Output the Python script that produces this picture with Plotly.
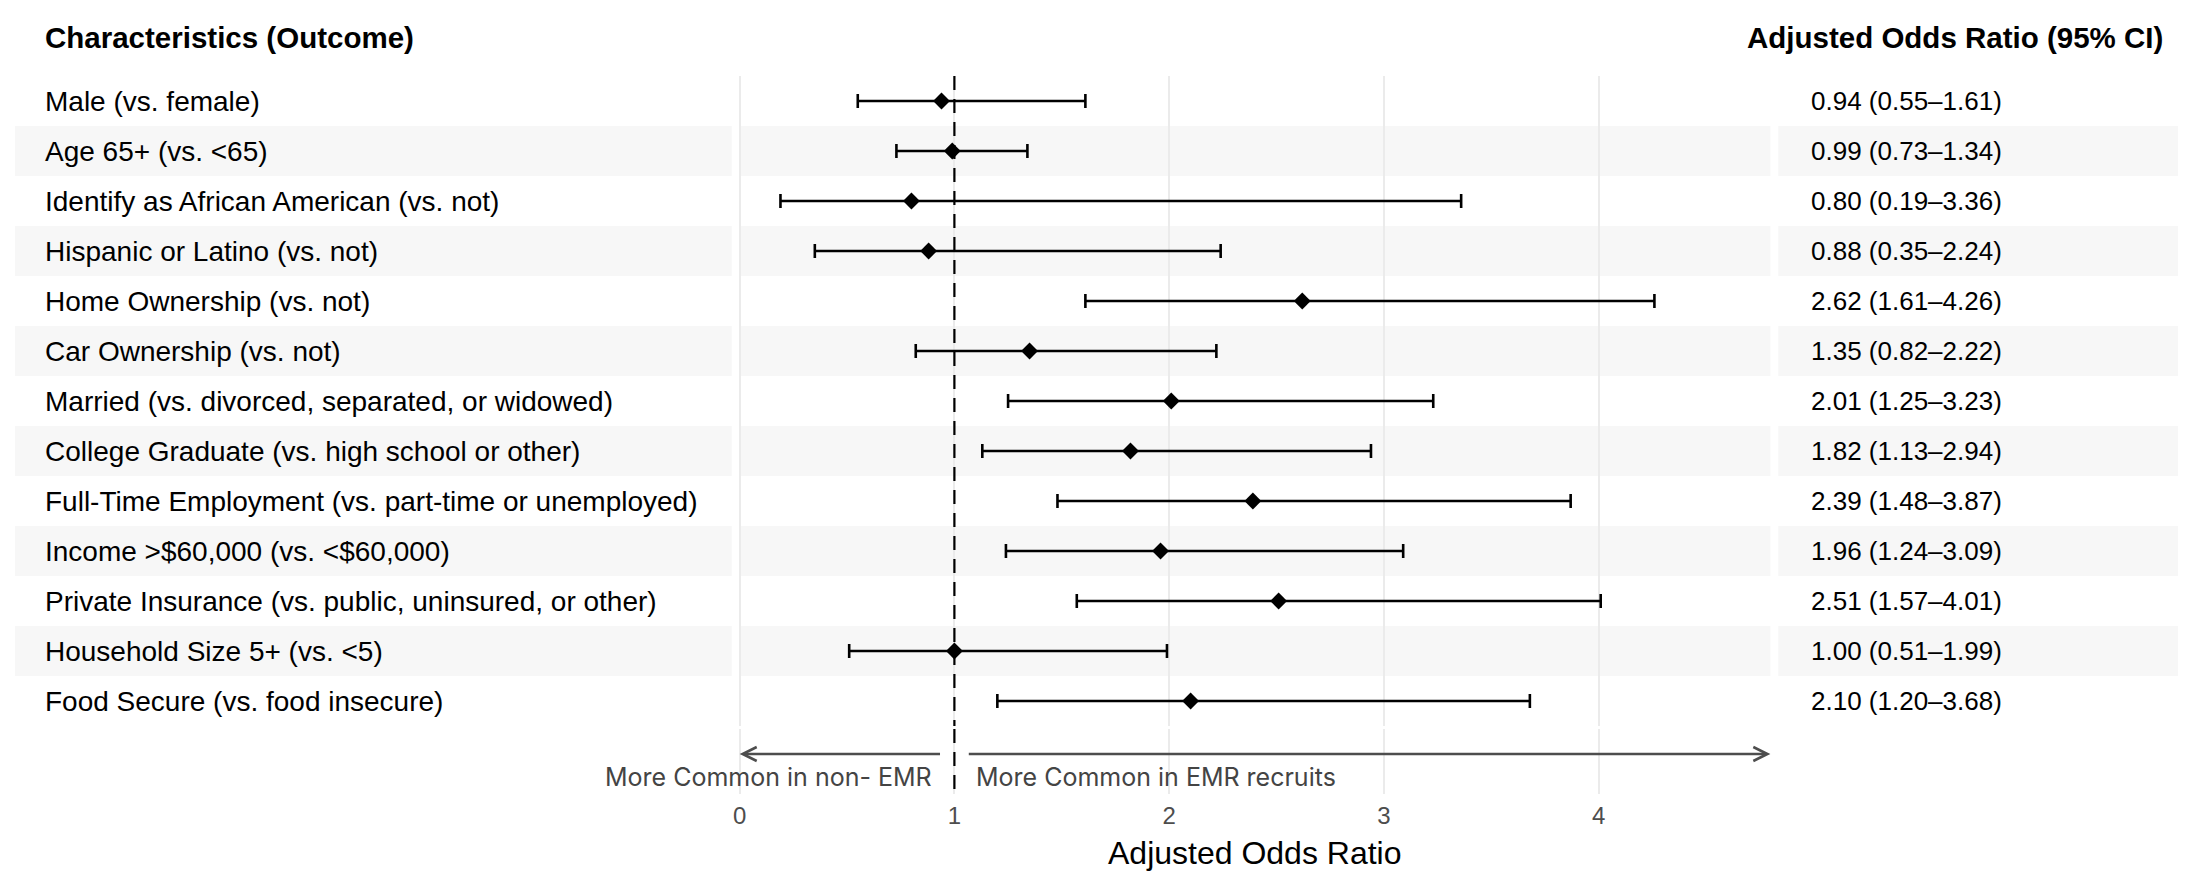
import plotly.graph_objects as go

# ---- data ----
characteristics = [
    "Male (vs. female)",
    "Age 65+ (vs. <65)",
    "Identify as African American (vs. not)",
    "Hispanic or Latino (vs. not)",
    "Home Ownership (vs. not)",
    "Car Ownership (vs. not)",
    "Married (vs. divorced, separated, or widowed)",
    "College Graduate (vs. high school or other)",
    "Full-Time Employment (vs. part-time or unemployed)",
    "Income >$60,000 (vs. <$60,000)",
    "Private Insurance (vs. public, uninsured, or other)",
    "Household Size 5+ (vs. <5)",
    "Food Secure (vs. food insecure)",
]
odds_ratio = [0.94, 0.99, 0.80, 0.88, 2.62, 1.35, 2.01, 1.82, 2.39, 1.96, 2.51, 1.00, 2.10]
ci_low = [0.55, 0.73, 0.19, 0.35, 1.61, 0.82, 1.25, 1.13, 1.48, 1.24, 1.57, 0.51, 1.20]
ci_high = [1.61, 1.34, 3.36, 2.24, 4.26, 2.22, 3.23, 2.94, 3.87, 3.09, 4.01, 1.99, 3.68]
x_ticks = [0, 1, 2, 3, 4]
x_tick_labels = ["0", "1", "2", "3", "4"]
left_header = "Characteristics (Outcome)"
right_header = "Adjusted Odds Ratio (95% CI)"
x_title = "Adjusted Odds Ratio"
arrow_left_text = "More Common in non- EMR"
arrow_right_text = "More Common in EMR recruits"

# ---- layout geometry (pixels) ----
W, H = 2186, 878
def px_x(p):
    return p / W
def px_y(p):
    return 1 - p / H

PANEL_L, PANEL_R = 727, 1761
TOP_T, TOP_B = 68, 718
BOT_T, BOT_B = 721, 786
X_MAX = 4.8

n = len(characteristics)
rows = list(range(n))

def esc(s):
    return s.replace("&", "&amp;").replace("<", "&lt;").replace(">", "&gt;")

TEXT_FONT = "Liberation Sans, Arial, Helvetica, sans-serif"

fig = go.Figure()

# reference line at OR = 1 (both panels)
fig.add_trace(go.Scatter(
    x=[1, 1], y=[-0.5, n - 0.5], mode="lines",
    line=dict(color="black", width=2.2, dash="14px,9px"),
    xaxis="x", yaxis="y", hoverinfo="skip", showlegend=False))
fig.add_trace(go.Scatter(
    x=[1, 1], y=[1, 0], mode="lines",
    line=dict(color="black", width=2.2, dash="14px,9px"),
    xaxis="x2", yaxis="y2", hoverinfo="skip", showlegend=False))

# estimates with CI
fig.add_trace(go.Scatter(
    x=odds_ratio, y=rows, mode="markers",
    marker=dict(symbol="diamond", size=13, color="black"),
    error_x=dict(type="data", symmetric=False,
                 array=[h - o for h, o in zip(ci_high, odds_ratio)],
                 arrayminus=[o - l for o, l in zip(odds_ratio, ci_low)],
                 color="black", thickness=2.6, width=7),
    xaxis="x", yaxis="y", showlegend=False))

shapes = []
annotations = []
STRIPE = "#f7f7f7"
for i in rows:
    if i % 2 == 1:
        for (a, b) in [(0, 719), (PANEL_L, PANEL_R), (1769, W)]:
            shapes.append(dict(type="rect", xref="paper", yref="y",
                               x0=px_x(a), x1=px_x(b), y0=i - 0.5, y1=i + 0.5,
                               fillcolor=STRIPE, line=dict(width=0), layer="below"))
    annotations.append(dict(xref="paper", yref="y", x=px_x(28), y=i,
                            text=esc(characteristics[i]), showarrow=False,
                            xanchor="left", yanchor="middle",
                            font=dict(family=TEXT_FONT, size=28, color="black")))
    annotations.append(dict(xref="paper", yref="y", x=px_x(1800), y=i,
                            text=f"{odds_ratio[i]:.2f} ({ci_low[i]:.2f}\u2013{ci_high[i]:.2f})",
                            showarrow=False, xanchor="left", yanchor="middle",
                            font=dict(family=TEXT_FONT, size=26, color="black")))

# headers
annotations.append(dict(xref="paper", yref="paper", x=px_x(28), y=px_y(29),
                        text=f"<b>{left_header}</b>", showarrow=False,
                        xanchor="left", yanchor="middle",
                        font=dict(family=TEXT_FONT, size=29.5, color="black")))
annotations.append(dict(xref="paper", yref="paper", x=px_x(2157), y=px_y(29),
                        text=f"<b>{right_header}</b>", showarrow=False,
                        xanchor="right", yanchor="middle",
                        font=dict(family=TEXT_FONT, size=29.5, color="black")))

# direction arrows
ARROW_Y = (BOT_B - 746) / (BOT_B - BOT_T)
LAB_Y = (BOT_B - 769) / (BOT_B - BOT_T)
ARROW_COL = "#4d4d4d"
annotations.append(dict(xref="x2", yref="y2", axref="x2", ayref="y2",
                        x=0, y=ARROW_Y, ax=0.94, ay=ARROW_Y, text="",
                        showarrow=True, arrowhead=5, arrowsize=1.1,
                        arrowwidth=2.5, arrowcolor=ARROW_COL, standoff=0))
annotations.append(dict(xref="x2", yref="y2", axref="x2", ayref="y2",
                        x=X_MAX, y=ARROW_Y, ax=1.06, ay=ARROW_Y, text="",
                        showarrow=True, arrowhead=5, arrowsize=1.1,
                        arrowwidth=2.5, arrowcolor=ARROW_COL, standoff=0))
annotations.append(dict(xref="x2", yref="y2", x=0.905, y=LAB_Y,
                        text=arrow_left_text, showarrow=False,
                        xanchor="right", yanchor="middle",
                        font=dict(family="Inter, sans-serif", size=25, color="#444444")))
annotations.append(dict(xref="x2", yref="y2", x=1.09, y=LAB_Y,
                        text=arrow_right_text, showarrow=False,
                        xanchor="left", yanchor="middle",
                        font=dict(family="Inter, sans-serif", size=25, color="#444444")))

# axis title
annotations.append(dict(xref="x2 domain", yref="paper", x=0.5, y=px_y(845),
                        text=x_title, showarrow=False,
                        xanchor="center", yanchor="middle",
                        font=dict(family=TEXT_FONT, size=32, color="black")))

GRID = "#ebebeb"
xcommon = dict(domain=[px_x(PANEL_L), px_x(PANEL_R)], range=[0, X_MAX],
               tickvals=x_ticks, ticktext=x_tick_labels,
               showgrid=True, gridcolor=GRID, gridwidth=1.6,
               zeroline=True, zerolinecolor=GRID, zerolinewidth=1.6,
               showline=False, ticks="", fixedrange=True)

fig.update_layout(
    width=W, height=H,
    margin=dict(l=0, r=0, t=0, b=0),
    paper_bgcolor="white", plot_bgcolor="rgba(0,0,0,0)",
    showlegend=False,
    xaxis=dict(**xcommon, anchor="y", showticklabels=False),
    yaxis=dict(domain=[px_y(TOP_B), px_y(TOP_T)], range=[n - 0.5, -0.5],
               visible=False, anchor="x", fixedrange=True),
    xaxis2=dict(**xcommon, anchor="y2", matches="x", showticklabels=True,
                tickfont=dict(family=TEXT_FONT, size=24, color="#4d4d4d"),
                ticklabelstandoff=5),
    yaxis2=dict(domain=[px_y(BOT_B), px_y(BOT_T)], range=[0, 1],
                visible=False, anchor="x2", fixedrange=True),
    shapes=shapes,
    annotations=annotations,
)

fig.write_html("out.html")
